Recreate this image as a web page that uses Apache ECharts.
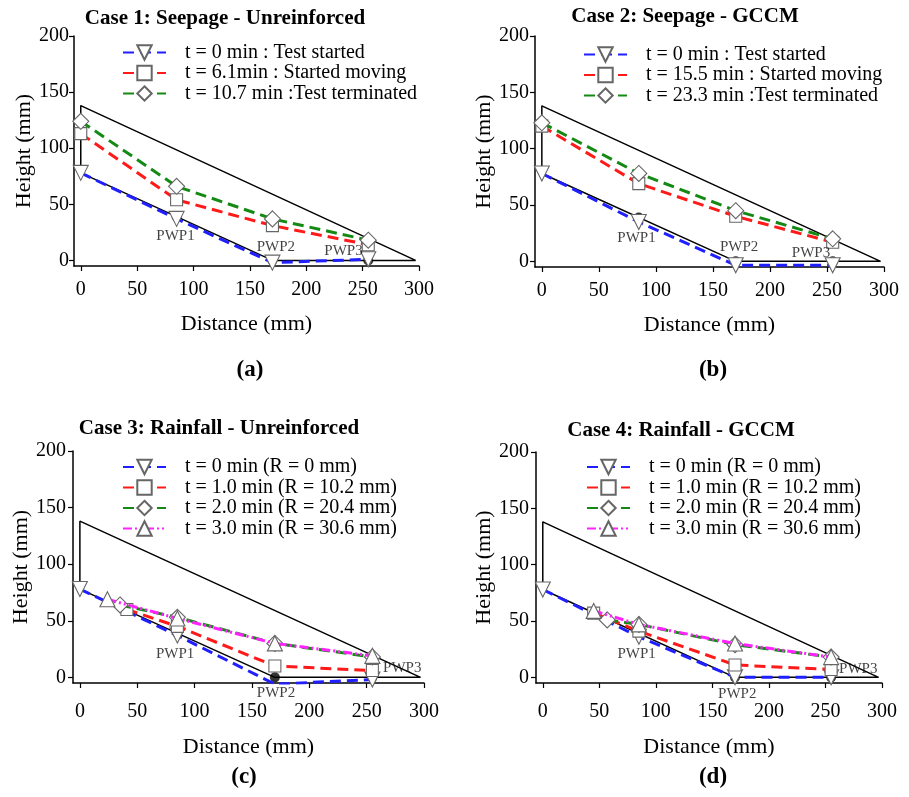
<!DOCTYPE html>
<html>
<head>
<meta charset="utf-8">
<script src="https://cdn.jsdelivr.net/npm/echarts@6/dist/echarts.min.js"></script>
<style>
html,body{margin:0;padding:0;background:#fff;}
#chart{width:909px;height:797px;}
</style>
</head>
<body>
<div id="chart"></div>
<script>
// ---------- DATA ----------
const xTicks = [0, 50, 100, 150, 200, 250, 300];
const yTicks = [0, 50, 100, 150, 200];

const panelTitles = ['Case 1: Seepage - Unreinforced', 'Case 2: Seepage - GCCM', 'Case 3: Rainfall - Unreinforced', 'Case 4: Rainfall - GCCM'];
const panelTags = ['(a)', '(b)', '(c)', '(d)'];

// slope outline and initial phreatic line (black)
const slopeX = [0, 0, 297, 170, 0];
const slopeY = [78, 138, 0, 0, 78];
// pore water pressure sensors
const pwpNames = ['PWP1', 'PWP2', 'PWP3'];
const pwpX = [85, 170, 255];
const pwpY = [39, 0, 0];

// Case 1
const c1Names = ['t = 0 min : Test started', 't = 6.1min : Started moving', 't = 10.7 min :Test terminated'];
const c1X = [0, 85, 170, 255];
const c1T0 = [78, 37, -2, 1];
const c1T1 = [113, 54, 31, 14];
const c1T2 = [124, 66, 37, 18];
const c1LabelX = [84, 173, 233];
const c1LabelY = [22, 12, 8];

// Case 2
const c2Names = ['t = 0 min : Test started', 't = 15.5 min : Started moving', 't = 23.3 min :Test terminated'];
const c2X = [0, 85, 170, 255];
const c2T0 = [78, 35, -3.5, -3.5];
const c2T1 = [120, 69, 40, 17];
const c2T2 = [123, 78, 45, 20];
const c2LabelX = [83, 173, 236];
const c2LabelY = [21, 13, 7];

// Case 3
const rainNames = ['t = 0 min (R = 0 mm)', 't = 1.0 min (R = 10.2 mm)', 't = 2.0 min (R = 20.4 mm)', 't = 3.0 min (R = 30.6 mm)'];
const c3X0 = [0, 85, 170, 255];
const c3T0 = [78, 37, -6, -2];
const c3X1 = [41, 85, 170, 255];
const c3T1 = [60, 45, 10, 6];
const c3X2 = [35, 85, 170, 255];
const c3T2 = [64, 53, 30, 18];
const c3X3 = [24, 85, 170, 255];
const c3T3 = [69, 52, 30, 19];
const c3LabelX = [83, 171, 281];
const c3LabelY = [21, -14, 8];

// Case 4
const c4X0 = [0, 85, 170, 255];
const c4T0 = [78, 36, 0, 0];
const c4X1 = [45, 85, 170, 255];
const c4T1 = [57, 41, 11, 7];
const c4X2 = [57, 85, 170, 255];
const c4T2 = [51, 47, 29, 18];
const c4X3 = [45, 85, 170, 255];
const c4T3 = [59, 47, 30, 18];
const c4LabelX = [83, 172, 279];
const c4LabelY = [21, -15, 7];

// ---------- STYLE ----------
const FONT = "'Liberation Serif','Times New Roman',serif";
const styles = [
  {color: '#1f1fff', symbol: 'triangle', rotate: 180, size: 15, type: [11, 6]},
  {color: '#ff1a1a', symbol: 'rect', rotate: 0, size: 12, type: [11, 6]},
  {color: '#148a14', symbol: 'diamond', rotate: 0, size: 16, type: [11, 6]},
  {color: '#ff22ff', symbol: 'triangle', rotate: 0, size: 15, type: [9, 3, 2, 3, 2, 3]}
];

const grids = [
  {left: 74, top: 36, width: 345, height: 230},
  {left: 535, top: 36, width: 349, height: 231},
  {left: 73, top: 451, width: 351, height: 232},
  {left: 536, top: 452, width: 346, height: 231}
];
const yNameGap = [36, 38, 38, 39];
const xNameGap = [47, 47, 53, 53];
const xLabelMargin = [14, 14, 19, 19];
const yLabelMargin = [5, 6, 7, 7];

const zip = (xs, ys) => xs.map((x, i) => [x, ys[i]]);

const series = [];
const xAxis = [], yAxis = [];
grids.forEach((g, i) => {
  xAxis.push({
    type: 'value', gridIndex: i, min: -6, max: 300,
    name: 'Distance (mm)', nameLocation: 'middle', nameGap: xNameGap[i],
    nameTextStyle: {fontFamily: FONT, fontSize: 22, color: '#000'},
    axisLine: {show: true, onZero: false, lineStyle: {color: '#000', width: 1.5}},
    axisTick: {show: true, inside: false, length: 5, customValues: xTicks, lineStyle: {color: '#000', width: 1.2}},
    axisLabel: {customValues: xTicks, fontFamily: FONT, fontSize: 20, color: '#000', margin: xLabelMargin[i]},
    splitLine: {show: false}
  });
  yAxis.push({
    type: 'value', gridIndex: i, min: -5, max: 200,
    name: 'Height (mm)', nameLocation: 'middle', nameGap: yNameGap[i],
    nameTextStyle: {fontFamily: FONT, fontSize: 22, color: '#000'},
    axisLine: {show: true, onZero: false, lineStyle: {color: '#000', width: 1.5}},
    axisTick: {show: true, inside: false, length: 5, customValues: yTicks, lineStyle: {color: '#000', width: 1.2}},
    axisLabel: {customValues: yTicks, fontFamily: FONT, fontSize: 20, color: '#000', margin: yLabelMargin[i]},
    splitLine: {show: false}
  });
  // slope outline
  series.push({
    type: 'line', xAxisIndex: i, yAxisIndex: i, data: zip(slopeX, slopeY),
    symbol: 'none', silent: true, z: 2, clip: false,
    lineStyle: {color: '#000', width: 1.5}
  });
  // PWP sensor dots
  series.push({
    type: 'scatter', xAxisIndex: i, yAxisIndex: i, data: zip(pwpX, pwpY),
    symbol: 'circle', symbolSize: 10, silent: true, z: 3, clip: false,
    itemStyle: {color: '#000'}
  });
});

function addSeries(gi, name, xs, ys, st) {
  series.push({
    type: 'line', name: name, xAxisIndex: gi, yAxisIndex: gi,
    data: zip(xs, ys), z: 4 + st.idx * 0.1,
    symbol: st.symbol, symbolSize: st.size, symbolRotate: st.rotate,
    showAllSymbol: true,
    lineStyle: {color: st.color, width: 3, type: st.type},
    itemStyle: {color: '#fff', borderColor: '#666', borderWidth: 1.1},
    emphasis: {disabled: true}
  });
}
styles.forEach((s, k) => s.idx = k);

addSeries(0, c1Names[0], c1X, c1T0, styles[0]);
addSeries(0, c1Names[1], c1X, c1T1, styles[1]);
addSeries(0, c1Names[2], c1X, c1T2, styles[2]);

addSeries(1, c2Names[0], c2X, c2T0, styles[0]);
addSeries(1, c2Names[1], c2X, c2T1, styles[1]);
addSeries(1, c2Names[2], c2X, c2T2, styles[2]);

addSeries(2, rainNames[0], c3X0, c3T0, styles[0]);
addSeries(2, rainNames[1], c3X1, c3T1, styles[1]);
addSeries(2, rainNames[2], c3X2, c3T2, styles[2]);
addSeries(2, rainNames[3], c3X3, c3T3, styles[3]);

addSeries(3, rainNames[0], c4X0, c4T0, styles[0]);
addSeries(3, rainNames[1], c4X1, c4T1, styles[1]);
addSeries(3, rainNames[2], c4X2, c4T2, styles[2]);
addSeries(3, rainNames[3], c4X3, c4T3, styles[3]);

// PWP labels
const labelSets = [[c1LabelX, c1LabelY], [c2LabelX, c2LabelY], [c3LabelX, c3LabelY], [c4LabelX, c4LabelY]];
labelSets.forEach((ls, i) => {
  series.push({
    type: 'scatter', xAxisIndex: i, yAxisIndex: i, silent: true, clip: false, z: 6,
    symbolSize: 0,
    data: ls[0].map((x, k) => ({value: [x, ls[1][k]], name: pwpNames[k]})),
    label: {show: true, position: 'inside', formatter: p => p.name, fontFamily: FONT, fontSize: 15, color: '#111'}
  });
});

const legendPos = [
  {left: 122, top: 42.5, names: c1Names},
  {left: 583, top: 44.5, names: c2Names},
  {left: 122, top: 457, names: rainNames},
  {left: 586, top: 457, names: rainNames}
];
const legend = legendPos.map(lp => ({
  left: lp.left, top: lp.top, orient: 'vertical', padding: 0,
  itemWidth: 43, itemHeight: 18, itemGap: 0.5, selectedMode: false,
  data: lp.names,
  textStyle: {fontFamily: FONT, fontSize: 20, color: '#000', padding: [0, 0, 0, 14]}
}));

const titlePos = [[225, 19], [685, 17], [219, 429], [681, 431]];
const tagPos = [[250, 370], [713, 370], [244, 777], [713, 777]];
const graphic = [];
panelTitles.forEach((t, i) => {
  graphic.push({type: 'text', x: titlePos[i][0], y: titlePos[i][1], silent: true,
    style: {text: t, font: "bold 21px " + FONT, fill: '#000', align: 'center', verticalAlign: 'middle'}});
  graphic.push({type: 'text', x: tagPos[i][0], y: tagPos[i][1], silent: true,
    style: {text: panelTags[i], font: "bold 23px " + FONT, fill: '#000', align: 'center', verticalAlign: 'middle'}});
});

const chart = echarts.init(document.getElementById('chart'), null, {renderer: 'canvas'});
chart.setOption({
  animation: false,
  backgroundColor: '#fff',
  grid: grids,
  xAxis: xAxis,
  yAxis: yAxis,
  legend: legend,
  graphic: graphic,
  series: series
});
</script>
</body>
</html>
